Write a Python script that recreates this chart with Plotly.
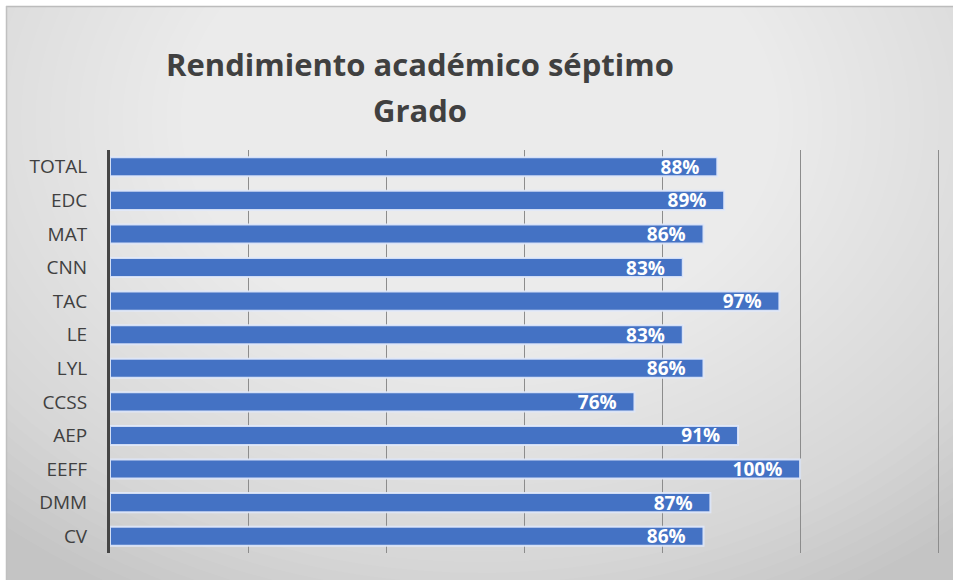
import plotly.graph_objects as go

categories = ["TOTAL", "EDC", "MAT", "CNN", "TAC", "LE", "LYL", "CCSS", "AEP", "EEFF", "DMM", "CV"]
values = [0.88, 0.89, 0.86, 0.83, 0.97, 0.83, 0.86, 0.76, 0.91, 1.00, 0.87, 0.86]
title_lines = ["Rendimiento académico séptimo", "Grado"]

W, H = 953, 580
L, R, T, B = 110, 8, 150, 27
pw, ph = W - L - R, H - T - B
FONT = "Open Sans"


def px(x):
    return (x - L) / pw


def py(y):
    return (H - B - y) / ph


fig = go.Figure()
fig.add_trace(go.Bar(
    y=categories, x=values, orientation="h",
    marker=dict(color="#4472C4", line=dict(color="rgba(225,233,250,0.9)", width=2)),
    texttemplate="%{x:.0%}\u00a0\u00a0\u00a0", textposition="inside", insidetextanchor="end",
    constraintext="none",
    textfont=dict(family=FONT, size=19, color="white", weight="bold"),
    cliponaxis=False, showlegend=False, hoverinfo="skip",
))

shapes = []
shapes.append(dict(type="rect", xref="paper", yref="paper", x0=px(6), x1=px(W + 2), y0=py(6), y1=py(H + 2),
                   fillcolor="#c4c4c4", line=dict(width=0), layer="below"))
cx, cy = 480, 120
N = 48
for i in range(N):
    rx = 720 - i * 14.5
    ry = rx * 0.75
    shapes.append(dict(type="circle", xref="paper", yref="paper", xsizemode="pixel", ysizemode="pixel",
                       xanchor=px(cx), yanchor=py(cy), x0=-rx, x1=rx, y0=-ry, y1=ry,
                       fillcolor="white", opacity=0.046, line=dict(width=0), layer="below"))
shapes.append(dict(type="rect", xref="paper", yref="paper", x0=px(-5), x1=px(W + 5), y0=py(6), y1=py(-5),
                   fillcolor="white", line=dict(width=0), layer="below"))
shapes.append(dict(type="rect", xref="paper", yref="paper", x0=px(-5), x1=px(6), y0=py(-5), y1=py(H + 5),
                   fillcolor="white", line=dict(width=0), layer="below"))
shapes.append(dict(type="line", xref="paper", yref="paper", x0=px(6), x1=px(W), y0=py(6.5), y1=py(6.5),
                   line=dict(color="#bcbcbc", width=1.5), layer="below"))
shapes.append(dict(type="line", xref="paper", yref="paper", x0=px(6.5), x1=px(6.5), y0=py(6), y1=py(H),
                   line=dict(color="#c0c0c0", width=1.5), layer="below"))

annotations = [
    dict(text=title_lines[0], xref="paper", yref="paper", x=px(420), y=py(64), xanchor="center", yanchor="middle",
         showarrow=False, font=dict(family=FONT, size=31, color="#404040", weight="bold")),
    dict(text=title_lines[1], xref="paper", yref="paper", x=px(420), y=py(110), xanchor="center", yanchor="middle",
         showarrow=False, font=dict(family=FONT, size=31, color="#404040", weight="bold")),
]

fig.update_layout(
    width=W, height=H,
    margin=dict(l=L, r=R, t=T, b=B),
    paper_bgcolor="white", plot_bgcolor="rgba(0,0,0,0)",
    bargap=0.43,
    shapes=shapes, annotations=annotations,
    xaxis=dict(range=[0, 1.21], dtick=0.2, tick0=0, showticklabels=False, showgrid=True,
               gridcolor="#8c8c8c", gridwidth=1, zeroline=False, showline=False, fixedrange=True),
    yaxis=dict(autorange="reversed", showline=True, linecolor="#454545", linewidth=3,
               ticks="", ticklabelstandoff=16, showgrid=False,
               tickfont=dict(family=FONT, size=19, color="#404040")),
)

fig.write_html("out.html", config={"displayModeBar": False},
               post_script="document.body.style.margin='0px';document.body.style.overflow='hidden';")
